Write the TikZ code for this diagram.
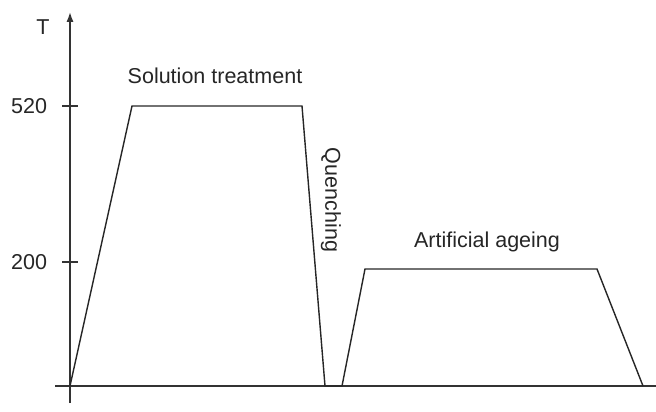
\documentclass[tikz,border=0pt]{standalone}
\usepackage{fontspec}
\setmainfont{Liberation Sans}
\usetikzlibrary{arrows.meta}
\begin{document}
\begin{tikzpicture}[x=0.025cm, y=-0.025cm, every node/.style={font=\fontsize{15.3}{17}\selectfont, text=black!85}]
\useasboundingbox (0,0) rectangle (656,412);
% axes
\draw[line width=1.1pt, black!80, -{Latex[length=7pt,width=5pt]}] (70,403) -- (70,12);
\draw[line width=1.1pt, black!80] (55,386) -- (662,386);
\node (tlab) at (43,27) {T};
\node (xlab) at (659,408) {t};
% ticks and values
\draw[line width=0.9pt, black!80] (62,106) -- (78,106);
\draw[line width=0.9pt, black!80] (62,262) -- (78,262);
\node[anchor=east] (v520) at (52,106) {520};
\node[anchor=east] (v200) at (52,262) {200};
% temperature curve
\draw[line width=1pt, black!85, line join=miter]
  (70,386) -- (132,106) -- (302,106) -- (325,386) -- (342,386)
  -- (365,269) -- (597,269) -- (643,386);
% labels
\node (solution) at (215,76) {Solution treatment};
\node[rotate=-90] (quench) at (331,200) {Quenching};
\node (ageing) at (487,242) {Artificial ageing};
\end{tikzpicture}
\end{document}
